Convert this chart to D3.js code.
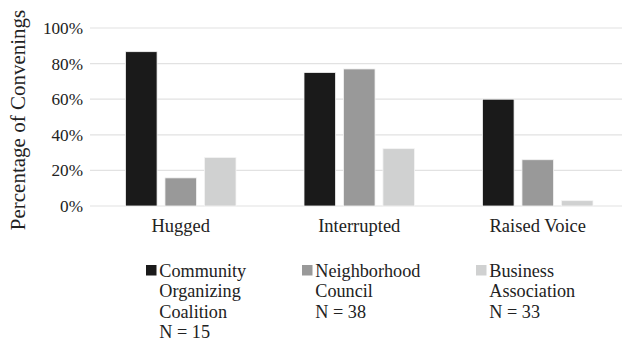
<!DOCTYPE html>
<html>
<head>
<meta charset="utf-8">
<script src="https://cdn.jsdelivr.net/npm/d3@7.9.0/dist/d3.min.js"></script>
<style>
  body { margin: 0; background: #fff; }
  svg { display: block; font-family: "Liberation Serif", "Times New Roman", serif; }
</style>
</head>
<body>
<svg id="chart" width="622" height="342"></svg>
<script>
// Data
const behaviors = ["Hugged", "Interrupted", "Raised Voice"];
const groups = ["Community Organizing Coalition", "Neighborhood Council", "Business Association"];
const groupLines = [
  ["Community", "Organizing", "Coalition", "N = 15"],
  ["Neighborhood", "Council", "N = 38"],
  ["Business", "Association", "N = 33"]
];
const coalitionValues = [0.867, 0.75, 0.60];
const councilValues = [0.158, 0.77, 0.26];
const businessValues = [0.273, 0.322, 0.03];
const yTicks = [0, 0.2, 0.4, 0.6, 0.8, 1.0];

const seriesValues = [coalitionValues, councilValues, businessValues];
const colors = d3.scaleOrdinal().domain(groups).range(["#1a1a1a", "#999999", "#d0d1d1"]);

const svg = d3.select("#chart");

// Scales
const x0 = d3.scaleBand().domain(behaviors).range([91.5, 627]).paddingInner(0).paddingOuter(0);
const x1 = d3.scaleBand().domain(groups).range([34, x0.bandwidth() - 34]).paddingInner(0.2).paddingOuter(0);
const y = d3.scaleLinear().domain([0, 1]).range([206, 28]);

// Gridlines
svg.append("g")
  .selectAll("line")
  .data(yTicks)
  .join("line")
    .attr("x1", 90)
    .attr("x2", 622)
    .attr("y1", d => y(d))
    .attr("y2", d => y(d))
    .attr("stroke", "#e2e2e2")
    .attr("stroke-width", 1.2);

// Y axis tick labels
const yAxis = d3.axisLeft(y).tickValues(yTicks).tickFormat(d3.format(".0%")).tickSize(0).tickPadding(0);
svg.append("g")
  .attr("transform", "translate(83,0)")
  .call(yAxis)
  .call(g => g.select(".domain").remove())
  .call(g => g.selectAll("text")
    .attr("font-family", "Liberation Serif")
    .attr("font-size", 17.2)
    .attr("fill", "#222"));

// Y axis title
svg.append("text")
  .attr("transform", "translate(24.5,120) rotate(-90)")
  .attr("text-anchor", "middle")
  .attr("font-size", 21)
  .attr("fill", "#222")
  .text("Percentage of Convenings");

// Bars
const groupG = svg.append("g")
  .selectAll("g")
  .data(behaviors)
  .join("g")
    .attr("transform", d => `translate(${x0(d)},0)`);

groupG.selectAll("rect")
  .data((d, i) => groups.map((g, j) => ({ group: g, value: seriesValues[j][i] })))
  .join("rect")
    .attr("x", d => x1(d.group))
    .attr("y", d => y(d.value))
    .attr("width", x1.bandwidth())
    .attr("height", d => y(0) - y(d.value))
    .attr("fill", d => colors(d.group))
    .attr("stroke", "#f4f4f4")
    .attr("stroke-width", 0.8);

// Category labels
const xAxis = d3.axisBottom(x0).tickSize(0).tickPadding(0);
svg.append("g")
  .attr("transform", "translate(0,219)")
  .call(xAxis)
  .call(g => g.select(".domain").remove())
  .call(g => g.selectAll("text")
    .attr("font-family", "Liberation Serif")
    .attr("font-size", 18.5)
    .attr("fill", "#222"));

// Legend
const legendX = [146, 302, 476];
const legend = svg.append("g")
  .selectAll("g")
  .data(groups)
  .join("g")
    .attr("transform", (d, i) => `translate(${legendX[i]},265)`);

legend.append("rect")
  .attr("width", 10.5)
  .attr("height", 10.5)
  .attr("fill", d => colors(d));

legend.append("text")
  .attr("font-size", 18.2)
  .attr("fill", "#222")
  .selectAll("tspan")
  .data((d, i) => groupLines[i])
  .join("tspan")
    .attr("x", 13.3)
    .attr("y", (d, i) => 11.5 + i * 20.6)
    .text(d => d);
</script>
</body>
</html>
